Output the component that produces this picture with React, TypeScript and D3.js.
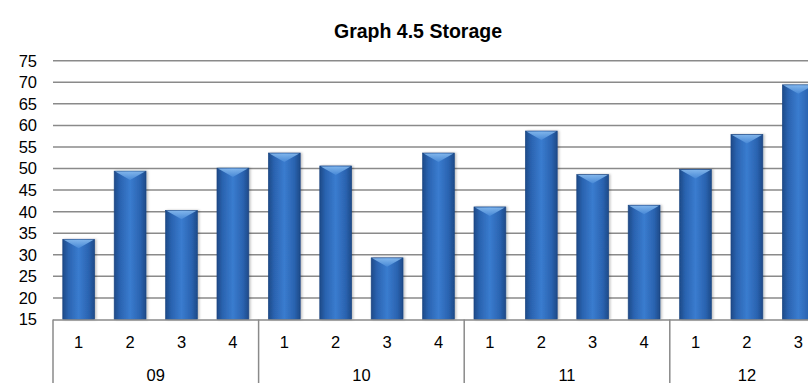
import React from "react";
import * as d3 from "d3";

const groups = ["09", "10", "11", "12"];
const quarters = ["1", "2", "3", "4", "1", "2", "3", "4", "1", "2", "3", "4", "1", "2", "3"];
const groupOf = ["09", "09", "09", "09", "10", "10", "10", "10", "11", "11", "11", "11", "12", "12", "12"];
const values = [33.6, 49.4, 40.3, 50.1, 53.6, 50.6, 29.3, 53.6, 41.1, 58.7, 48.6, 41.5, 49.8, 57.9, 69.4];
const yTicks = [15, 20, 25, 30, 35, 40, 45, 50, 55, 60, 65, 70, 75];
const title = "Graph 4.5 Storage";

const W = 808;
const H = 383;
const left = 53;
const perCat = 51.4;
const yTop = 60.7;
const yBottom = 319.5;

export default function App() {
  const keys = values.map((_, i) => String(i));
  const x = d3
    .scaleBand<string>()
    .domain(keys)
    .range([left, left + perCat * values.length])
    .paddingInner(0.38)
    .paddingOuter(0.19);
  const y = d3.scaleLinear().domain([15, 75]).range([yBottom, yTop]);
  const bw = x.bandwidth();
  const catLeft = (i: number) => left + i * perCat;

  const groupSpans = groups.map((g) => {
    const idx = groupOf.map((gg, i) => (gg === g ? i : -1)).filter((i) => i >= 0);
    const start = catLeft(idx[0]);
    const end = catLeft(idx[idx.length - 1] + 1);
    return { g, start, end, first: idx[0] };
  });

  const font = "'Liberation Sans', Arial, sans-serif";
  const grid = "#8a8a8a";

  return (
    <div style={{ position: "absolute", left: 0, top: 0 }}>
      <svg width={W} height={H} style={{ display: "block" }}>
        <defs>
          <linearGradient id="barGrad" x1="0" x2="1" y1="0" y2="0">
            <stop offset="0%" stopColor="#1d4a88" />
            <stop offset="18%" stopColor="#2a63b0" />
            <stop offset="50%" stopColor="#3a7ccf" />
            <stop offset="82%" stopColor="#2a63b0" />
            <stop offset="100%" stopColor="#1d4a88" />
          </linearGradient>
          <linearGradient id="capGrad" x1="0" x2="0" y1="0" y2="1">
            <stop offset="0%" stopColor="#8dc0f2" />
            <stop offset="100%" stopColor="#4a8bd8" />
          </linearGradient>
          <filter id="shadow" x="-20%" y="-5%" width="140%" height="110%">
            <feDropShadow dx="1.5" dy="0" stdDeviation="1.2" floodColor="#000" floodOpacity="0.25" />
          </filter>
        </defs>
        <rect width={W} height={H} fill="#ffffff" />
        <text
          x={418}
          y={38}
          textAnchor="middle"
          fontFamily={font}
          fontWeight="bold"
          fontSize={19.5}
          fill="#000"
        >
          {title}
        </text>
        {yTicks.map((t) => (
          <g key={t}>
            {t > 15 && (
              <line x1={left} x2={W} y1={y(t)} y2={y(t)} stroke={grid} strokeWidth={1.5} />
            )}
            <text
              x={37}
              y={y(t)}
              dy="0.36em"
              textAnchor="end"
              fontFamily={font}
              fontSize={16.5}
              fill="#000"
            >
              {t}
            </text>
          </g>
        ))}
        {values.map((v, i) => {
          const bx = x(String(i)) as number;
          const top = y(v);
          const capH = Math.min(9, (yBottom - top) / 2);
          return (
            <g key={i} filter="url(#shadow)">
              <rect x={bx} y={top} width={bw} height={yBottom - top} fill="url(#barGrad)" stroke="#1a4580" strokeWidth={0.6} />
              <path
                d={`M${bx + 1},${top + 0.5} L${bx + bw - 1},${top + 0.5} L${bx + bw / 2},${top + capH} Z`}
                fill="url(#capGrad)"
                opacity={0.85}
              />
            </g>
          );
        })}
        <line x1={left} x2={W} y1={yBottom + 0.5} y2={yBottom + 0.5} stroke={grid} strokeWidth={1.5} />
        {groupSpans.map((s) => (
          <line key={"sep" + s.g} x1={s.start} x2={s.start} y1={yBottom} y2={H} stroke={grid} strokeWidth={1.5} />
        ))}
        {quarters.map((q, i) => (
          <text
            key={"q" + i}
            x={(x(String(i)) as number) + bw / 2}
            y={342}
            dy="0.36em"
            textAnchor="middle"
            fontFamily={font}
            fontSize={16.5}
            fill="#000"
          >
            {q}
          </text>
        ))}
        {groupSpans.map((s) => (
          <text
            key={"g" + s.g}
            x={(s.start + s.end) / 2}
            y={375}
            dy="0.36em"
            textAnchor="middle"
            fontFamily={font}
            fontSize={16.5}
            fill="#000"
          >
            {s.g}
          </text>
        ))}
      </svg>
    </div>
  );
}
